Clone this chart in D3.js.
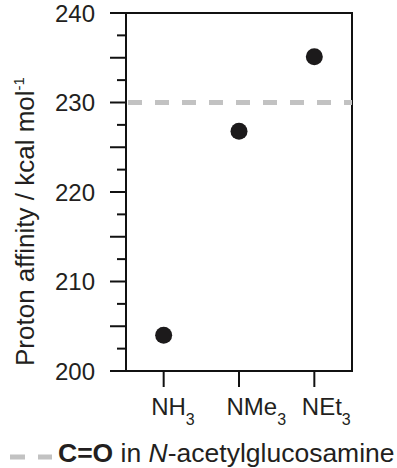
<!DOCTYPE html>
<html>
<head>
<meta charset="utf-8">
<script src="https://cdn.jsdelivr.net/npm/d3@7"></script>
<style>
  body { margin: 0; background: #fff; }
  text { font-family: "Liberation Sans", Arial, sans-serif; fill: #231f20; }
</style>
</head>
<body>
<div id="chart"></div>
<script>
// data
var bases = ["NH", "NMe", "NEt"];     // all with subscript 3
var subs = ["3", "3", "3"];
var affinity = [204.0, 226.8, 235.1]; // kcal/mol
var refValue = 230;                   // C=O in N-acetylglucosamine
var majorTicks = [200, 210, 220, 230, 240];
var minorTicks = d3.range(200, 240.01, 2.5);

var W = 397, H = 468;
var pLeft = 126, pRight = 352, pTop = 13, pBottom = 371;

var svg = d3.select("#chart").append("svg")
    .attr("width", W).attr("height", H);

var x = d3.scalePoint().domain(bases).range([pLeft, pRight]).padding(0.5);
var y = d3.scaleLinear().domain([200, 240]).range([pBottom, pTop]);

// frame
svg.append("rect")
    .attr("x", pLeft).attr("y", pTop)
    .attr("width", pRight - pLeft).attr("height", pBottom - pTop)
    .attr("fill", "none").attr("stroke", "#111").attr("stroke-width", 2);

// y ticks: long every 5, short every 2.5
svg.append("g").selectAll("line")
    .data(minorTicks)
    .enter().append("line")
    .attr("x1", function(d) { return (d % 5 === 0) ? pLeft - 16 : pLeft - 9; })
    .attr("x2", pLeft)
    .attr("y1", function(d) { return y(d); })
    .attr("y2", function(d) { return y(d); })
    .attr("stroke", "#111").attr("stroke-width", 2);

svg.append("g").selectAll("text")
    .data(majorTicks)
    .enter().append("text")
    .attr("x", pLeft - 31)
    .attr("y", function(d) { return y(d); })
    .attr("dy", "0.36em")
    .attr("text-anchor", "end")
    .style("font-size", "24px")
    .text(function(d) { return d; });

// x ticks
svg.append("g").selectAll("line")
    .data(bases)
    .enter().append("line")
    .attr("x1", function(d) { return x(d); })
    .attr("x2", function(d) { return x(d); })
    .attr("y1", pBottom).attr("y2", pBottom + 16)
    .attr("stroke", "#111").attr("stroke-width", 2);

// labels start a little left of the tick, subscript hangs off the right
var xl = svg.append("g").selectAll("text")
    .data(bases)
    .enter().append("text")
    .attr("x", function(d) { return x(d) - 12.5; })
    .attr("y", 415)
    .attr("text-anchor", "start")
    .style("font-size", "24px");
xl.append("tspan").text(function(d) { return d; });
xl.append("tspan")
    .attr("dy", 10)
    .style("font-size", "16px")
    .text(function(d, i) { return subs[i]; });

// reference line
svg.append("line")
    .attr("x1", pLeft + 2).attr("x2", pRight)
    .attr("y1", y(refValue)).attr("y2", y(refValue))
    .attr("stroke", "#c2c2c2").attr("stroke-width", 5)
    .attr("stroke-dasharray", "14,13");

// points
svg.append("g").selectAll("circle")
    .data(bases)
    .enter().append("circle")
    .attr("cx", function(d) { return x(d); })
    .attr("cy", function(d, i) { return y(affinity[i]); })
    .attr("r", 8.5)
    .attr("fill", "#1c1a1b");

// y title
var yt = svg.append("text")
    .attr("transform", "translate(34,366) rotate(-90)")
    .attr("text-anchor", "start")
    .style("font-size", "26px");
yt.append("tspan").text("Proton affinity / kcal mol");
yt.append("tspan").attr("dy", -10).style("font-size", "15px").text("-1");

// legend
svg.append("line")
    .attr("x1", 10).attr("x2", 52)
    .attr("y1", 457).attr("y2", 457)
    .attr("stroke", "#c2c2c2").attr("stroke-width", 5)
    .attr("stroke-dasharray", "15,13");

var lg = svg.append("text")
    .attr("x", 58).attr("y", 462)
    .style("font-size", "26.5px");
lg.append("tspan").style("font-weight", "700").text("C=O");
lg.append("tspan").text(" in ");
lg.append("tspan").style("font-style", "italic").text("N");
lg.append("tspan").text("-acetylglucosamine");
</script>
</body>
</html>
